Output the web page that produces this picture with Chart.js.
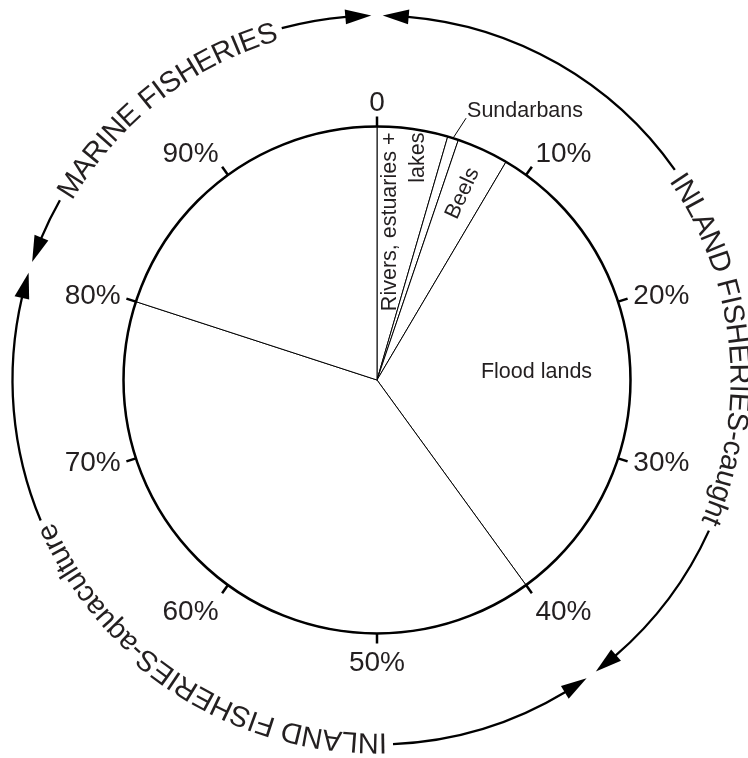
<!DOCTYPE html>
<html>
<head>
<meta charset="utf-8">
<script src="https://cdn.jsdelivr.net/npm/chart.js@4.4.1/dist/chart.umd.min.js"></script>
<style>
  html, body { margin: 0; padding: 0; background: #fff; }
  #wrap { width: 748px; height: 758px; position: relative; }
</style>
</head>
<body>
<div id="wrap"><canvas id="c"></canvas></div>
<script>
// ---- data ----
const sliceLabels = ["Rivers, estuaries + lakes", "Sundarbans", "Beels", "Flood lands", "Aquaculture", "Marine"];
const sliceValues = [4.5, 0.7, 3.3, 31.5, 40, 20];
const tickValues = [0, 10, 20, 30, 40, 50, 60, 70, 80, 90];
const tickLabels = ["0", "10%", "20%", "30%", "40%", "50%", "60%", "70%", "80%", "90%"];
const groupNames = ["INLAND FISHERIES-caught", "INLAND FISHERIES-aquaculture", "MARINE FISHERIES"];
const groupFirstSlice = [0, 4, 5];
const groupLastSlice = [3, 4, 5];

const TEXT = '#231f20';
const FONT = '"Liberation Sans", Arial, Helvetica, sans-serif';

const decor = {
  id: 'decor',
  afterDatasetsDraw(chart, args, opts) {
    const ctx = chart.ctx;
    const arcs = chart.getDatasetMeta(0).data;
    const cx = arcs[0].x, cy = arcs[0].y, r = arcs[0].outerRadius;
    const total = sliceValues.reduce((a, b) => a + b, 0);
    const ang = f => -Math.PI / 2 + f * 2 * Math.PI;
    const cum = [0];
    sliceValues.forEach(v => cum.push(cum[cum.length - 1] + v / total));
    const mid = i => (arcs[i].startAngle + arcs[i].endAngle) / 2;

    ctx.save();
    ctx.strokeStyle = '#000';
    ctx.fillStyle = TEXT;

    // outer circle
    ctx.lineWidth = 2.5;
    ctx.beginPath(); ctx.arc(cx, cy, r, 0, Math.PI * 2); ctx.stroke();

    // ticks + labels
    ctx.font = '28px ' + FONT;
    tickValues.forEach((v, i) => {
      const a = ang(v / 100);
      const c = Math.cos(a), s = Math.sin(a);
      ctx.beginPath();
      ctx.moveTo(cx + r * c, cy + r * s);
      ctx.lineTo(cx + (r + 10) * c, cy + (r + 10) * s);
      ctx.stroke();
      ctx.textAlign = c > 0.3 ? 'left' : (c < -0.3 ? 'right' : 'center');
      ctx.textBaseline = s < -0.5 ? 'alphabetic' : (s > 0.5 ? 'top' : 'middle');
      ctx.fillText(tickLabels[i], cx + (r + 16) * c, cy + (r + 16) * s);
    });

    // slice labels
    ctx.font = '21.5px ' + FONT;
    // Rivers, estuaries + lakes (rotated, two lines)
    {
      const parts = ["Rivers, estuaries +", "lakes"];
      const topY = cy - (r - 6);
      ctx.textAlign = 'right'; ctx.textBaseline = 'alphabetic';
      parts.forEach((p, k) => {
        ctx.save();
        ctx.translate(cx + 18.5 + k * 28, topY);
        ctx.rotate(-Math.PI / 2);
        ctx.fillText(p, 0, 0);
        ctx.restore();
      });
    }
    // Sundarbans with leader
    {
      const a = mid(1);
      const px = cx + r * Math.cos(a), py = cy + r * Math.sin(a);
      const ex = px + 13, ey = py - 20;
      ctx.lineWidth = 1;
      ctx.beginPath(); ctx.moveTo(px, py); ctx.lineTo(ex, ey); ctx.stroke();
      ctx.textAlign = 'left'; ctx.textBaseline = 'alphabetic';
      ctx.fillText(sliceLabels[1], ex + 1, ey - 1);
    }
    // Beels (rotated along slice)
    {
      const a = mid(2);
      ctx.save();
      ctx.translate(cx + 0.81 * r * Math.cos(a), cy + 0.81 * r * Math.sin(a));
      ctx.rotate(a);
      ctx.textAlign = 'center'; ctx.textBaseline = 'middle';
      ctx.fillText(sliceLabels[2], 0, 0);
      ctx.restore();
    }
    // Flood lands
    {
      const a = mid(3);
      ctx.textAlign = 'center'; ctx.textBaseline = 'middle';
      ctx.fillText(sliceLabels[3], cx + 0.63 * r * Math.cos(a), cy + 0.63 * r * Math.sin(a));
    }

    // outer group arcs with arrows and curved text
    const R = r + 111;
    const TR = R - 3;
    ctx.font = '29px ' + FONT;
    const headL = 26 / R, headW = 7.5, tipGap = 5.7 / R, pad = 6 / R;
    const drawHead = (tipA, baseA) => {
      ctx.beginPath();
      ctx.moveTo(cx + R * Math.cos(tipA), cy + R * Math.sin(tipA));
      ctx.lineTo(cx + (R + headW) * Math.cos(baseA), cy + (R + headW) * Math.sin(baseA));
      ctx.lineTo(cx + (R - headW) * Math.cos(baseA), cy + (R - headW) * Math.sin(baseA));
      ctx.closePath();
      ctx.fillStyle = '#000';
      ctx.fill();
    };
    groupNames.forEach((name, g) => {
      const a0 = ang(cum[groupFirstSlice[g]]);
      const a1 = ang(cum[groupLastSlice[g] + 1]);
      const t0 = a0 + tipGap, t1 = a1 - tipGap;
      const b0 = t0 + headL, b1 = t1 - headL;
      const chars = Array.from(name);
      const widths = chars.map(ch => ctx.measureText(ch).width);
      const w = widths.reduce((a, b) => a + b, 0);
      const ac = ang(opts.labelAt[g] / 100);
      const ts = ac - w / 2 / TR, te = ac + w / 2 / TR;
      ctx.lineWidth = 2.3;
      ctx.beginPath(); ctx.arc(cx, cy, R, b0 - 0.002, ts - pad); ctx.stroke();
      ctx.beginPath(); ctx.arc(cx, cy, R, te + pad, b1 + 0.002); ctx.stroke();
      drawHead(t0, b0);
      drawHead(t1, b1);
      ctx.fillStyle = TEXT;
      ctx.textAlign = 'center'; ctx.textBaseline = 'middle';
      let a = ts;
      chars.forEach((ch, k) => {
        const am = a + widths[k] / 2 / TR;
        ctx.save();
        ctx.translate(cx + TR * Math.cos(am), cy + TR * Math.sin(am));
        ctx.rotate(am + Math.PI / 2);
        ctx.fillText(ch, 0, 0);
        ctx.restore();
        a += widths[k] / TR;
      });
    });

    ctx.restore();
  }
};

new Chart(document.getElementById('c'), {
  type: 'pie',
  data: {
    labels: sliceLabels,
    datasets: [{
      data: sliceValues,
      backgroundColor: '#ffffff',
      borderColor: '#000000',
      borderWidth: 1,
      hoverOffset: 0
    }]
  },
  options: {
    responsive: true,
    maintainAspectRatio: false,
    animation: false,
    layout: { padding: { left: 123, right: 117, top: 126, bottom: 124 } },
    plugins: {
      legend: { display: false },
      tooltip: { enabled: false },
      decor: { labelAt: [23.5, 59, 89.5] }
    },
    events: []
  },
  plugins: [decor]
});
</script>
</body>
</html>
